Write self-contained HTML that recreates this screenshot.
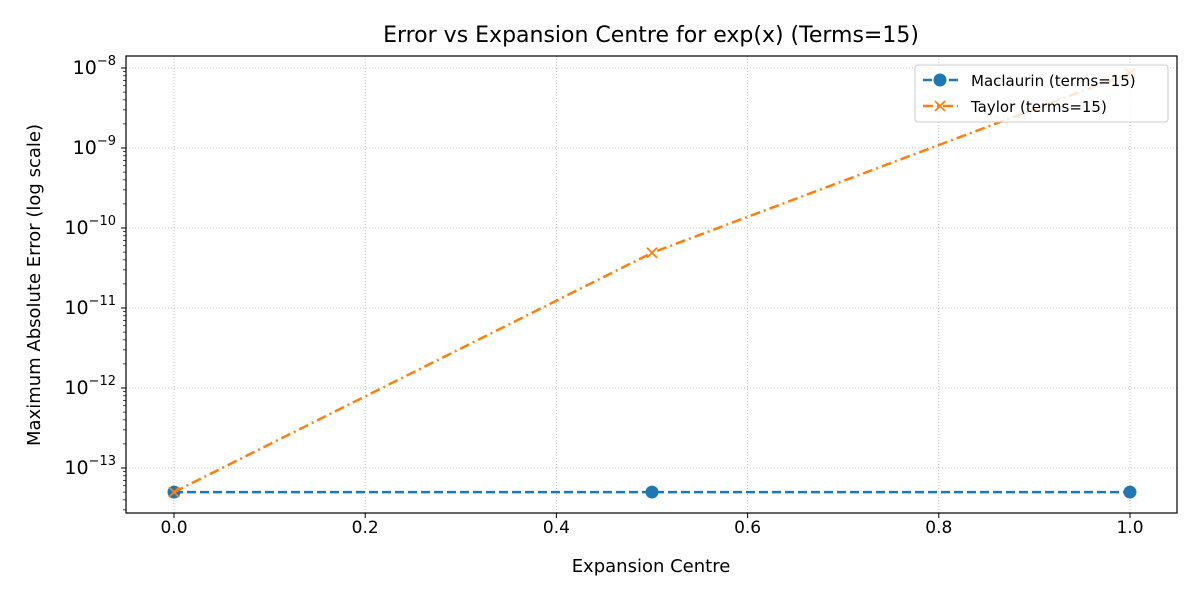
<!DOCTYPE html>
<html><head><meta charset="utf-8"><style>
body{margin:0;background:#fff;}
svg{display:block;font-family:"DejaVu Sans","Liberation Sans",sans-serif;}
</style></head><body>
<svg id="chart" width="1200" height="600" viewBox="0 0 1200 600">
<rect width="1200" height="600" fill="#fff"/>
<g id="grid"></g><g id="axes"></g><g id="series"></g><g id="legend"></g>
</svg>
<script>
const centres = [0.0, 0.5, 1.0];
const maclaurinErr = [5e-14, 5e-14, 5e-14];
const taylorErr = [5e-14, 4.9e-11, 8.6e-9];
const xTicks = [0.0, 0.2, 0.4, 0.6, 0.8, 1.0];
const xTickLabels = ["0.0","0.2","0.4","0.6","0.8","1.0"];
const yDecades = [-13, -12, -11, -10, -9, -8];

const L=126,R=1177,T=56,B=513;
const sx=v=>174+(v-0)*956;
const sy=v=>468-(Math.log10(v)+13)*80;
const NS="http://www.w3.org/2000/svg";
function mk(tag,attrs,parent,txt){const e=document.createElementNS(NS,tag);for(const k in attrs)e.setAttribute(k,attrs[k]);if(txt!==undefined)e.textContent=txt;parent.appendChild(e);return e;}
const grid=document.getElementById('grid'),axes=document.getElementById('axes'),ser=document.getElementById('series'),leg=document.getElementById('legend');

xTicks.forEach((v,i)=>{const x=sx(v);
 const g=mk('line',{x1:x,x2:x,y1:T,y2:B,stroke:'#b0b0b0','stroke-width':0.8,'stroke-dasharray':'1,2'},grid);
 
 mk('line',{x1:x,x2:x,y1:B,y2:B+5,stroke:'#000','stroke-width':1},axes);
 const t=mk('text',{x:x,y:B+20,'text-anchor':'middle','font-size':17},axes,xTickLabels[i]);
 
});
yDecades.forEach(d=>{const y=sy(Math.pow(10,d));
 const g=mk('line',{x1:L,x2:R,y1:y,y2:y,stroke:'#b0b0b0','stroke-width':0.8,'stroke-dasharray':'1,2'},grid);
 
 mk('line',{x1:L-5,x2:L,y1:y,y2:y,stroke:'#000','stroke-width':1},axes);
 const t=mk('text',{x:L-10,y:y+6,'text-anchor':'end','font-size':19},axes);
 
 mk('tspan',{},t,'10');mk('tspan',{dy:-9,'font-size':13},t,'\u2212'+Math.abs(d));
});
for(let d=-14;d<=-8;d++)for(let m=2;m<=9;m++){const v=m*Math.pow(10,d);const y=sy(v);if(y>T&&y<B)mk('line',{x1:L-3,x2:L,y1:y,y2:y,stroke:'#000','stroke-width':0.7},axes);}
const frame=mk('rect',{x:L,y:T,width:R-L,height:B-T,fill:'none',stroke:'#000','stroke-width':1.2},axes);


let t=mk('text',{x:651,y:42,'text-anchor':'middle','font-size':22},axes,'Error vs Expansion Centre for exp(x) (Terms=15)');

t=mk('text',{x:651,y:572,'text-anchor':'middle','font-size':18},axes,'Expansion Centre');

t=mk('text',{x:40,y:285,'text-anchor':'middle','font-size':18,transform:'rotate(-90 40 285)'},axes,'Maximum Absolute Error (log scale)');


const mPts=centres.map((c,i)=>sx(c)+','+sy(maclaurinErr[i])).join(' ');
let p=mk('polyline',{points:mPts,fill:'none',stroke:'#1f77b4','stroke-width':2.5,'stroke-dasharray':'9,4'},ser);

centres.forEach((c,i)=>{const m=mk('circle',{cx:sx(c),cy:sy(maclaurinErr[i]),r:6.5,fill:'#1f77b4'},ser);
 });
const tPts=centres.map((c,i)=>sx(c)+','+sy(taylorErr[i])).join(' ');
p=mk('polyline',{points:tPts,fill:'none',stroke:'#ff7f0e','stroke-width':2.5,'stroke-dasharray':'10,4,2,4'},ser);

centres.forEach((c,i)=>{const x=sx(c),y=sy(taylorErr[i]);
 const m=mk('path',{d:`M${x-5},${y-5}L${x+5},${y+5}M${x-5},${y+5}L${x+5},${y-5}`,stroke:'#ff7f0e','stroke-width':1.8},ser);
 });

const lb=mk('rect',{x:915,y:65,width:253,height:57,rx:3,fill:'#fff','fill-opacity':0.8,stroke:'#ccc','stroke-width':1},leg);

let e=mk('g',{},leg);
mk('line',{x1:923,x2:958,y1:80,y2:80,stroke:'#1f77b4','stroke-width':2.5,'stroke-dasharray':'9,4'},e);
mk('circle',{cx:940,cy:80,r:6.5,fill:'#1f77b4'},e);
mk('text',{x:971,y:86,'font-size':15},e,'Maclaurin (terms=15)');
e=mk('g',{},leg);
mk('line',{x1:923,x2:958,y1:106,y2:106,stroke:'#ff7f0e','stroke-width':2.5,'stroke-dasharray':'10,4,2,4'},e);
mk('path',{d:'M935,101L945,111M935,111L945,101',stroke:'#ff7f0e','stroke-width':1.8},e);
mk('text',{x:971,y:112,'font-size':15},e,'Taylor (terms=15)');
</script>
</body></html>
